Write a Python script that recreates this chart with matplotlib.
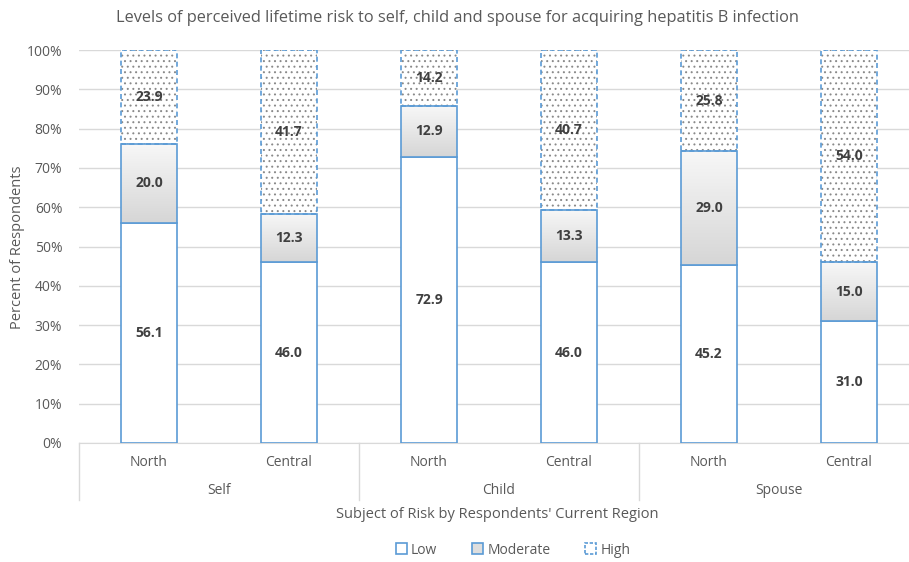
import numpy as np
import matplotlib.pyplot as plt
import matplotlib.transforms as mtransforms
from matplotlib.patches import Patch
from matplotlib.colors import LinearSegmentedColormap

plt.rcParams['font.family'] = ['Open Sans', 'DejaVu Sans']
plt.rcParams['hatch.linewidth'] = 0.7

# data
groups = ['Self', 'Child', 'Spouse']
regions = ['North', 'Central', 'North', 'Central', 'North', 'Central']
low = [56.1, 46.0, 72.9, 46.0, 45.2, 31.0]
moderate = [20.0, 12.3, 12.9, 13.3, 29.0, 15.0]
high = [23.9, 41.7, 14.2, 40.7, 25.8, 54.0]

blue = '#5B9BD5'
txt = '#595959'

fig = plt.figure(figsize=(9.09, 5.62), dpi=100)
W, H = 909, 562
ax = fig.add_axes([79 / W, (562 - 443) / H, 840 / W, 393 / H])

x = np.arange(len(regions))
bw = 0.4
low_arr = np.array(low)
mod_arr = np.array(moderate)
high_arr = np.array(high)

# low
ax.bar(x, low_arr, bw, color='white', edgecolor=blue, linewidth=1.2, zorder=3)

# moderate with gradient fill
mod_bars = ax.bar(x, mod_arr, bw, bottom=low_arr, color='none', edgecolor=blue,
                  linewidth=1.2, zorder=4)
grad = np.linspace(0, 1, 100).reshape(-1, 1)
gcmap = LinearSegmentedColormap.from_list('g', ['#d6d6d6', '#f7f7f7'])
for b in mod_bars:
    x0, y0 = b.get_x(), b.get_y()
    im = ax.imshow(grad, cmap=gcmap, aspect='auto', origin='lower',
                   extent=[x0, x0 + b.get_width(), y0, y0 + b.get_height()], zorder=3)
    im.set_clip_path(b)

# high: dotted pattern + dashed edge
ax.bar(x, high_arr, bw, bottom=low_arr + mod_arr, color='white', edgecolor='#8a8a8a',
       linewidth=0, hatch='...', zorder=3)
ax.bar(x, high_arr, bw, bottom=low_arr + mod_arr, color='none', edgecolor=blue,
       linewidth=1.2, linestyle=(0, (3, 2)), zorder=4)

# value labels
for i in range(len(x)):
    ax.text(x[i], low[i] / 2, f'{low[i]:.1f}', ha='center', va='center',
            fontsize=10, fontweight='bold', color='#404040', zorder=6)
    ax.text(x[i], low[i] + moderate[i] / 2, f'{moderate[i]:.1f}', ha='center', va='center',
            fontsize=10, fontweight='bold', color='#404040', zorder=6)
    ax.text(x[i], low[i] + moderate[i] + high[i] / 2, f'{high[i]:.1f}', ha='center',
            va='center', fontsize=10, fontweight='bold', color='#404040', zorder=6)

ax.set_xlim(-0.5, 5.5)
ax.set_ylim(0, 100)
ax.set_yticks(np.arange(0, 101, 10))
ax.set_yticklabels([f'{v}%' for v in range(0, 101, 10)])
ax.yaxis.grid(True, color='#d9d9d9', linewidth=1, zorder=0)
ax.set_axisbelow(True)
for s in ['top', 'right', 'left']:
    ax.spines[s].set_visible(False)
ax.spines['bottom'].set_color('#d9d9d9')
ax.tick_params(axis='y', length=0, labelsize=10, labelcolor=txt, pad=12)
ax.set_xticks([])

# multi-level category axis
trans = mtransforms.blended_transform_factory(ax.transData, ax.transAxes)
for xs in [-0.5, 1.5, 3.5, 5.5]:
    ax.plot([xs, xs], [0, -57 / 393], color='#d9d9d9', linewidth=1, transform=trans,
            clip_on=False)
for i, r in enumerate(regions):
    ax.text(x[i], -19 / 393, r, transform=trans, ha='center', va='center',
            fontsize=10, color=txt)
for g, name in enumerate(groups):
    ax.text(2 * g + 0.5, -48 / 393, name, transform=trans, ha='center', va='center',
            fontsize=10, color=txt)

fig.text(497 / W, 1 - 515 / H, "Subject of Risk by Respondents' Current Region",
         ha='center', va='center', fontsize=10.5, color=txt)
fig.text(18 / W, 1 - 247 / H, 'Percent of Respondents', rotation=90,
         ha='center', va='center', fontsize=10.5, color=txt)
fig.text(458 / W, 1 - 18 / H,
         'Levels of perceived lifetime risk to self, child and spouse for acquiring hepatitis B infection',
         ha='center', va='center', fontsize=11.8, color=txt)

handles = [Patch(facecolor='white', edgecolor=blue, linewidth=1.2, label='Low'),
           Patch(facecolor='#dedede', edgecolor=blue, linewidth=1.2, label='Moderate'),
           Patch(facecolor='white', edgecolor=blue, linewidth=1.2, linestyle=(0, (2, 1)),
                 label='High')]
fig.legend(handles=handles, loc='center', bbox_to_anchor=(513 / W, 1 - 550 / H), ncol=3,
           frameon=False, fontsize=10, labelcolor=txt, handlelength=0.8, handleheight=0.8,
           handletextpad=0.3, columnspacing=2.5)

fig.savefig('out.png', dpi=100)
